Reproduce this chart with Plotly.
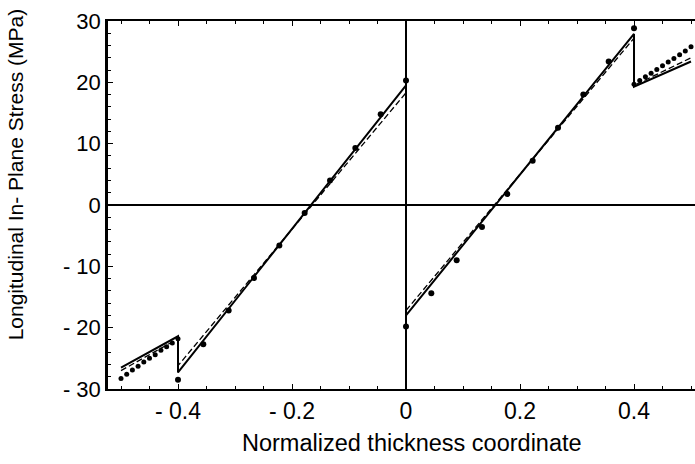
import plotly.graph_objects as go

# ---- data ----
# solid model curve
solid_x = [-0.5, -0.4, -0.4, 0.0, None, 0.0, 0.4, 0.4, 0.5]
solid_y = [-26.5, -21.4, -27.3, 19.5, None, -18.0, 27.9, 19.3, 23.4]
# dashed model curve
dash_x = [-0.5, -0.4, -0.4, 0.0, None, 0.0, 0.4, 0.4, 0.5]
dash_y = [-27.0, -21.8, -26.2, 18.3, None, -17.2, 27.2, 19.5, 24.0]
# points: cores
core_left_x = [-0.4, -0.3556, -0.3111, -0.2667, -0.2222, -0.1778, -0.1333, -0.0889, -0.0444, 0.0]
core_left_y = [-28.5, -22.7, -17.2, -11.9, -6.6, -1.3, 4.0, 9.3, 14.8, 20.3]
core_right_x = [0.0, 0.0444, 0.0889, 0.1333, 0.1778, 0.2222, 0.2667, 0.3111, 0.3556, 0.4]
core_right_y = [-19.8, -14.4, -9.0, -3.6, 1.8, 7.2, 12.6, 18.0, 23.4, 28.8]
# points: skins
skin_left_x = [-0.5, -0.49, -0.48, -0.47, -0.46, -0.45, -0.44, -0.43, -0.42, -0.41, -0.4]
skin_left_y = [-28.3, -27.6, -26.9, -26.3, -25.6, -25.0, -24.4, -23.7, -23.1, -22.5, -21.8]
skin_right_x = [0.4, 0.41, 0.42, 0.43, 0.44, 0.45, 0.46, 0.47, 0.48, 0.49, 0.5]
skin_right_y = [19.7, 20.3, 20.9, 21.5, 22.1, 22.7, 23.3, 23.9, 24.5, 25.1, 25.8]

x_tickvals = [-0.4, -0.2, 0, 0.2, 0.4]
x_ticktext = ["- 0.4", "- 0.2", "0", "0.2", "0.4"]
y_tickvals = [30, 20, 10, 0, -10, -20, -30]
y_ticktext = ["30", "20", "10", "0", "- 10", "- 20", "- 30"]
x_title = "Normalized thickness coordinate"
y_title = "Longitudinal In- Plane Stress (MPa)"

fig = go.Figure()
fig.add_trace(go.Scatter(x=dash_x, y=dash_y, mode="lines",
                         line=dict(color="black", width=1.3, dash="6px,3px"),
                         connectgaps=False, showlegend=False))
fig.add_trace(go.Scatter(x=solid_x, y=solid_y, mode="lines",
                         line=dict(color="black", width=2),
                         connectgaps=False, showlegend=False))
fig.add_trace(go.Scatter(x=core_left_x + core_right_x, y=core_left_y + core_right_y,
                         mode="markers", marker=dict(color="black", size=6),
                         showlegend=False))
fig.add_trace(go.Scatter(x=skin_left_x + skin_right_x, y=skin_left_y + skin_right_y,
                         mode="markers", marker=dict(color="black", size=5),
                         showlegend=False))

font = "Liberation Sans, Arial, sans-serif"
fig.update_layout(
    width=695, height=464,
    margin=dict(l=108, r=0, t=21, b=75),
    paper_bgcolor="white", plot_bgcolor="white",
    font=dict(family=font, color="black", size=22),
    xaxis=dict(range=[-0.5228, 0.507], tickvals=x_tickvals, ticktext=x_ticktext,
               showgrid=False, zeroline=True, zerolinecolor="black", zerolinewidth=1.8,
               showline=True, linecolor="black", linewidth=2, mirror="ticks",
               ticks="inside", ticklen=5, tickcolor="black",
               minor=dict(dtick=0.05, tick0=0, ticks="inside", ticklen=3, tickcolor="black"),
               tickfont=dict(size=23)),
    yaxis=dict(range=[-30, 30], tickvals=y_tickvals, ticktext=y_ticktext,
               showgrid=False, zeroline=True, zerolinecolor="black", zerolinewidth=1.8,
               showline=True, linecolor="black", linewidth=2.5,
               ticks="inside", ticklen=5, tickcolor="black",
               minor=dict(dtick=2, tick0=0, ticks="inside", ticklen=3, tickcolor="black"),
               tickfont=dict(size=22)),
    annotations=[
        dict(text=x_title, xref="paper", yref="paper", x=0.518, y=-0.147,
             xanchor="center", yanchor="middle", showarrow=False, font=dict(size=23.5)),
        dict(text=y_title, xref="paper", yref="paper", x=-0.158, y=0.584,
             xanchor="center", yanchor="middle", showarrow=False, textangle=-90,
             font=dict(size=21)),
    ],
)
fig.write_html("out.html")
